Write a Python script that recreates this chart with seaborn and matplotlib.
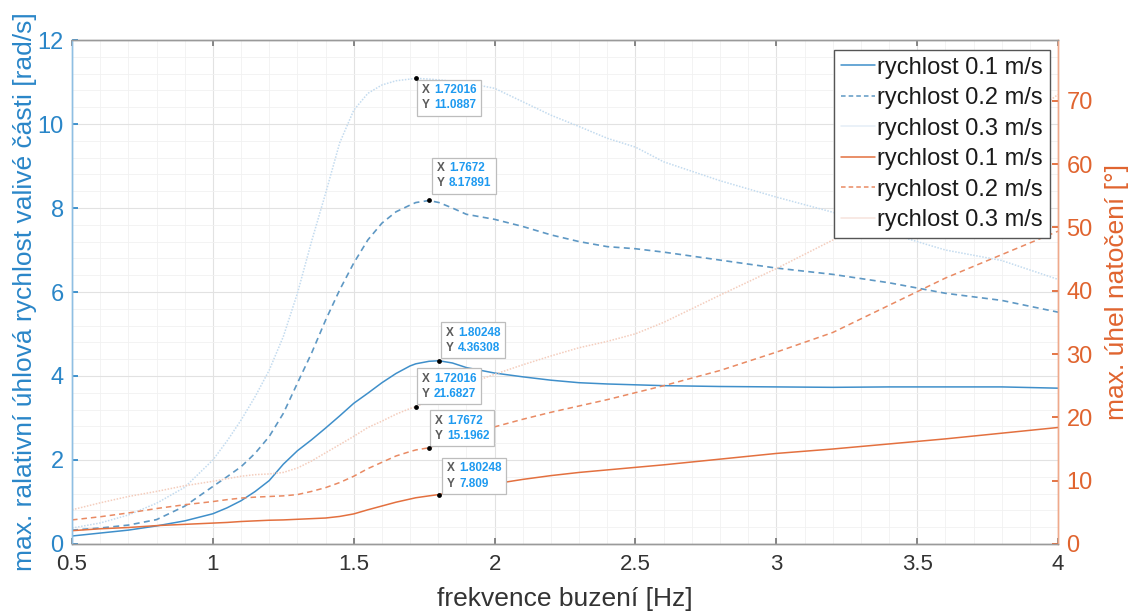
import matplotlib
matplotlib.use("Agg")
import matplotlib.pyplot as plt
import seaborn as sns
from matplotlib.lines import Line2D
from matplotlib.ticker import MultipleLocator
from matplotlib.offsetbox import TextArea, HPacker, AnnotationBbox

# ---------------- data ----------------
freq = [0.5, 0.6, 0.7, 0.8, 0.9, 1.0, 1.05, 1.1, 1.15, 1.2, 1.25, 1.3, 1.35,
        1.4, 1.45, 1.5, 1.55, 1.6, 1.65, 1.7, 1.72016, 1.7672, 1.80248, 1.85,
        1.9, 2.0, 2.1, 2.2, 2.3, 2.4, 2.5, 2.6, 2.8, 3.0, 3.2, 3.4, 3.6, 3.8, 4.0]

# left axis: max. relative angular velocity [rad/s]
rate_01 = [0.19, 0.26, 0.33, 0.43, 0.55, 0.72, 0.86, 1.03, 1.25, 1.51, 1.90,
           2.22, 2.48, 2.76, 3.05, 3.35, 3.59, 3.84, 4.06, 4.24, 4.29, 4.35,
           4.36308, 4.31, 4.20, 4.07, 3.98, 3.90, 3.84, 3.81, 3.79, 3.77,
           3.75, 3.74, 3.73, 3.74, 3.74, 3.74, 3.71]
rate_02 = [0.33, 0.38, 0.45, 0.58, 0.90, 1.37, 1.60, 1.84, 2.16, 2.56, 3.11,
           3.83, 4.54, 5.33, 6.05, 6.69, 7.24, 7.64, 7.91, 8.07, 8.13, 8.17891,
           8.13, 8.00, 7.85, 7.73, 7.56, 7.36, 7.20, 7.08, 7.03, 6.95, 6.76,
           6.57, 6.42, 6.22, 5.97, 5.80, 5.52]
rate_03 = [0.38, 0.50, 0.69, 0.97, 1.35, 2.00, 2.45, 2.95, 3.51, 4.14, 4.94,
           5.97, 7.20, 8.35, 9.55, 10.33, 10.73, 10.93, 11.03, 11.07, 11.0887,
           11.07, 11.05, 11.02, 10.98, 10.85, 10.53, 10.21, 9.94, 9.66, 9.45,
           9.10, 8.65, 8.26, 7.90, 7.40, 7.00, 6.75, 6.30]

# right axis: max. rotation angle [deg]
ang_01 = [2.1, 2.4, 2.6, 2.9, 3.1, 3.3, 3.4, 3.55, 3.65, 3.75, 3.8, 3.9, 4.0,
          4.1, 4.35, 4.75, 5.4, 6.0, 6.6, 7.1, 7.3, 7.6, 7.809, 8.2, 8.7, 9.5,
          10.2, 10.8, 11.3, 11.7, 12.1, 12.5, 13.4, 14.3, 15.0, 15.8, 16.6,
          17.5, 18.4]
ang_02 = [3.8, 4.3, 4.9, 5.6, 6.2, 6.7, 7.0, 7.25, 7.4, 7.5, 7.6, 7.8, 8.3,
          8.9, 9.7, 10.7, 11.9, 12.9, 13.9, 14.6, 14.85, 15.1962, 15.8, 16.6,
          17.4, 18.5, 19.7, 20.8, 21.8, 22.8, 23.9, 25.0, 27.4, 30.3, 33.4,
          37.7, 42.0, 45.7, 49.4]
ang_03 = [5.4, 6.5, 7.5, 8.3, 9.2, 9.9, 10.3, 10.7, 10.95, 11.06, 11.3, 12.0,
          13.1, 14.4, 15.7, 17.0, 18.4, 19.4, 20.5, 21.4, 21.6827, 22.5, 23.2,
          24.2, 25.2, 26.8, 28.3, 29.7, 31.0, 32.0, 33.2, 35.0, 39.3, 43.5,
          48.0, 53.0, 58.5, 64.5, 71.0]

labels = ["rychlost 0.1 m/s", "rychlost 0.2 m/s", "rychlost 0.3 m/s"]

# data tips: (x, y)
tips_rate = [(1.72016, 11.0887), (1.7672, 8.17891), (1.80248, 4.36308)]
tips_ang = [(1.72016, 21.6827), (1.7672, 15.1962), (1.80248, 7.809)]

# ---------------- style ----------------
sns.set_theme(style="whitegrid")
plt.rcParams["font.family"] = ["Liberation Sans", "DejaVu Sans"]

BLUE = "#2a86c8"
BLUE_L1 = "#3f8fca"
BLUE_L2 = "#5e98c4"
BLUE_L3 = "#c3dbef"
ORANGE = "#e0642f"
OR_L1 = "#e3703f"
OR_L2 = "#e98a63"
OR_L3 = "#f4cdbd"
DASH = (0, (3.6, 2.6))

fig = plt.figure(figsize=(11.31, 6.13), dpi=100)
ax = fig.add_axes([0.0637, 0.1126, 0.8718, 0.8221])
ax2 = ax.twinx()
ax.set_facecolor("white")

# left axis lines
sns.lineplot(x=freq, y=rate_01, ax=ax, color=BLUE_L1, linestyle="-", lw=1.1, estimator=None)
sns.lineplot(x=freq, y=rate_02, ax=ax, color=BLUE_L2, linestyle=DASH, lw=1.2, estimator=None)
sns.lineplot(x=freq, y=rate_03, ax=ax, color=BLUE_L3, linestyle=(0, (1, 1)), lw=1.1, estimator=None)
# right axis lines
sns.lineplot(x=freq, y=ang_01, ax=ax2, color=OR_L1, linestyle="-", lw=1.1, estimator=None)
sns.lineplot(x=freq, y=ang_02, ax=ax2, color=OR_L2, linestyle=DASH, lw=1.1, estimator=None)
sns.lineplot(x=freq, y=ang_03, ax=ax2, color=OR_L3, linestyle=(0, (1, 1)), lw=1.1, estimator=None)

ax.set_xticks([0.5, 1, 1.5, 2, 2.5, 3, 3.5, 4])
ax.set_xticklabels(["0.5", "1", "1.5", "2", "2.5", "3", "3.5", "4"])
ax.set_yticks([0, 2, 4, 6, 8, 10, 12])
ax2.set_yticks([0, 10, 20, 30, 40, 50, 60, 70])
ax.xaxis.set_minor_locator(MultipleLocator(0.1))
ax.yaxis.set_minor_locator(MultipleLocator(0.4))

ax.grid(which="major", color="#e2e2e2", lw=0.8)
ax.grid(which="minor", color="#f1f1f1", lw=0.6)
ax2.grid(False)
ax.set_axisbelow(True)

for a in (ax, ax2):
    for s in a.spines.values():
        s.set_linewidth(1.0)
    a.spines["top"].set_color("#9a9a9a")
    a.spines["bottom"].set_color("#9a9a9a")
    a.spines["left"].set_color("#8fbfe3")
    a.spines["right"].set_color("#efa98b")

ax.tick_params(axis="x", which="major", direction="in", length=4, color="#777777",
               labelsize=16, labelcolor="#333333", pad=7, bottom=True, top=True)
ax.tick_params(axis="y", which="major", direction="in", length=4, color=BLUE,
               labelsize=17, labelcolor=BLUE, pad=6, left=True)
ax.tick_params(which="minor", length=0)
ax2.tick_params(axis="y", which="major", direction="in", length=4, color=ORANGE,
                labelsize=17, labelcolor=ORANGE, pad=6, right=True)
ax2.tick_params(which="minor", length=0)

ax.set_xlabel("frekvence buzení [Hz]", fontsize=19, color="#333333", labelpad=9)
ax.set_ylabel("max. ralativní úhlová rychlost valivé části [rad/s]", fontsize=19,
              color=BLUE, labelpad=0)
ax2.set_ylabel("max. úhel natočení [°]", fontsize=19, color=ORANGE, labelpad=9)

ax.set_xlim(0.5, 4)
ax.set_ylim(0, 12)
ax2.set_ylim(0, 79.6)

# data tips
tp = dict(fontsize=8.5, fontweight="bold", linespacing=1.35)
PADPX = 5

def datatip(axis, x, y, dx, dy, top):
    sns.scatterplot(x=[x], y=[y], ax=axis, color="black", s=12, edgecolor="black",
                    linewidth=0, zorder=25, legend=False)
    t1 = TextArea("X\nY", textprops=dict(color="#5a5a5a", **tp))
    t2 = TextArea(str(x) + "\n" + str(y), textprops=dict(color="#1e9af0", **tp))
    pack = HPacker(children=[t1, t2], pad=0, sep=3, align="baseline")
    if top:
        box = (dx + PADPX, dy - PADPX)
        align = (0, 1)
    else:
        box = (dx + PADPX, dy + PADPX)
        align = (0, 0)
    ab = AnnotationBbox(pack, (x, y), xycoords=axis.transData, xybox=box,
                        boxcoords="offset pixels", box_alignment=align, frameon=True,
                        pad=0.4, annotation_clip=False,
                        bboxprops=dict(boxstyle="square", fc="white", ec="#bdbdbd", lw=0.9))
    ab.set_zorder(20)
    axis.add_artist(ab)

offs_rate = [(1, -1, True), (3, 6, False), (2, 2, False)]
offs_ang = [(1, 2, False), (1, 1, False), (3, 0, False)]
for (x, y), (dx, dy, top) in zip(tips_rate, offs_rate):
    datatip(ax, x, y, dx, dy, top)
for (x, y), (dx, dy, top) in zip(tips_ang, offs_ang):
    datatip(ax2, x, y, dx, dy, top)

ax.set_xlim(0.5, 4)
ax.set_ylim(0, 12)
ax2.set_ylim(0, 79.6)

# legend
handles = [
    Line2D([], [], color=BLUE_L1, lw=1.1, linestyle="-"),
    Line2D([], [], color=BLUE_L2, lw=1.1, linestyle=(0, (3, 2))),
    Line2D([], [], color="#e4eef7", lw=1.1, linestyle="-"),
    Line2D([], [], color=OR_L1, lw=1.1, linestyle="-"),
    Line2D([], [], color=OR_L2, lw=1.1, linestyle=(0, (3, 2))),
    Line2D([], [], color="#f6e3dc", lw=1.1, linestyle="-"),
]
leg = ax2.legend(handles, labels + labels, loc="upper right", bbox_to_anchor=(0.992, 0.981),
                 borderaxespad=0, fontsize=17, frameon=True, fancybox=False,
                 handlelength=1.45, handletextpad=0.1, labelspacing=0.36,
                 borderpad=0.3, framealpha=1)
leg.get_frame().set_edgecolor("#555555")
leg.get_frame().set_linewidth(1.0)
for t in leg.get_texts():
    t.set_color("#1a1a1a")
leg.set_zorder(30)

fig.savefig("out.png", dpi=100)
